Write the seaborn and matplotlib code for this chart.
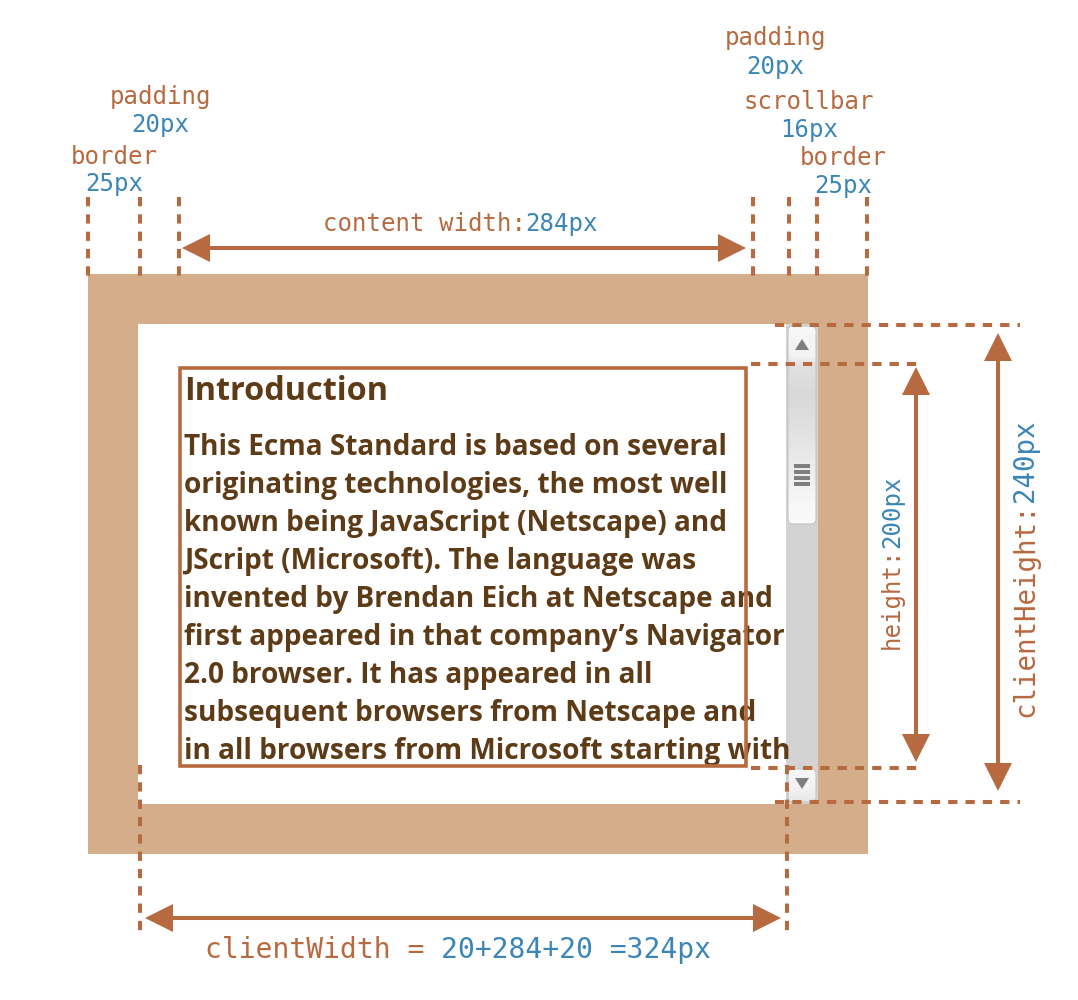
import numpy as np
import pandas as pd
import matplotlib
matplotlib.use("Agg")
import matplotlib.pyplot as plt
import seaborn as sns
from matplotlib.patches import Rectangle, FancyBboxPatch, Polygon

# ---------------- data (CSS pixel values of the box model) ----------------
part_names = ["border", "padding", "content", "padding", "scrollbar", "border"]
part_widths_css = [25, 20, 284, 20, 16, 25]
part_heights_css = [25, 20, 200, 20, 25]
content_width_css = 284
content_height_css = 200
client_height_css = 240
client_width_terms = [20, 284, 20]
client_width_css = 324

heading = "Introduction"
body_lines = [
    "This Ecma Standard is based on several",
    "originating technologies, the most well",
    "known being JavaScript (Netscape) and",
    "JScript (Microsoft). The language was",
    "invented by Brendan Eich at Netscape and",
    "first appeared in that company\u2019s Navigator",
    "2.0 browser. It has appeared in all",
    "subsequent browsers from Netscape and",
    "in all browsers from Microsoft starting with",
]

# ---------------- style ----------------
sns.set_theme(style="white")
plt.rcParams["font.family"] = ["DejaVu Sans Mono", "DejaVu Sans"]

TAN = "#d4ae8a"
BROWN = "#b7693f"
BLUE = "#3b86b7"
DARK = "#5d3b17"
TRACK = "#d3d3d3"
MONO = "DejaVu Sans Mono"

SCALE = 2.0
ORIGIN = (88, 274)

x_edges = ORIGIN[0] + SCALE * np.cumsum([0] + part_widths_css)
y_edges = ORIGIN[1] + SCALE * np.cumsum([0] + part_heights_css)

fig = plt.figure(figsize=(10.78, 10), dpi=100)
ax = fig.add_axes([0, 0, 1, 1])
ax.set_xlim(0, 1078)
ax.set_ylim(1000, 0)
ax.axis("off")

# ---------------- element box ----------------
ax.add_patch(Rectangle((x_edges[0], y_edges[0]), x_edges[-1] - x_edges[0],
                       y_edges[-1] - y_edges[0], facecolor=TAN, edgecolor="none", zorder=1))
ax.add_patch(Rectangle((x_edges[1], y_edges[1]), x_edges[5] - x_edges[1],
                       y_edges[4] - y_edges[1], facecolor="white", edgecolor="none", zorder=2))

# ---------------- scrollbar ----------------
sx0, sx1 = x_edges[4], x_edges[5]
ax.add_patch(Rectangle((sx0, y_edges[1]), sx1 - sx0, y_edges[4] - y_edges[1],
                       facecolor=TRACK, edgecolor="none", zorder=3))


def gradient_box(x0, x1, y0, y1, stops, zorder):
    patch = FancyBboxPatch((x0, y0), x1 - x0, y1 - y0,
                           boxstyle="round,pad=0,rounding_size=5",
                           facecolor="none", edgecolor="#c4c4c4", lw=0.8, zorder=zorder + 1)
    ax.add_patch(patch)
    pos = np.array([s[0] for s in stops])
    val = np.array([s[1] for s in stops])
    ys = np.linspace(0, 1, 200)
    g = np.interp(ys, pos, val)
    img = np.repeat(g[:, None], 4, axis=1)
    rgb = np.dstack([img, img, img])
    im = ax.imshow(rgb, extent=(x0, x1, y1, y0), origin="upper", aspect="auto",
                   zorder=zorder, interpolation="bilinear")
    im.set_clip_path(patch)


gradient_box(sx0 + 2, sx1 - 2, 326, 524,
             [(0, 0.97), (0.15, 0.95), (0.2, 0.88), (0.35, 0.85), (0.6, 0.9), (0.9, 0.97), (1, 0.98)], 4)
ax.add_patch(Polygon([(795, 350), (809, 350), (802, 339)], closed=True,
                     facecolor="#7f7f7f", edgecolor="none", zorder=6))
for gy in [466, 472, 478, 484]:
    ax.add_patch(Rectangle((794, gy - 1.6), 16, 3.2, facecolor="#7f7f7f",
                           edgecolor="none", zorder=6))
gradient_box(sx0 + 2, sx1 - 2, 769, 802, [(0, 0.97), (0.6, 0.95), (1, 0.9)], 4)
ax.add_patch(Polygon([(795, 778), (809, 778), (802, 789)], closed=True,
                     facecolor="#7f7f7f", edgecolor="none", zorder=6))

# ---------------- text content (drawn over the scrollbar, as in the reference) ----------------
ax.text(184, 400, heading, fontsize=23.3, fontweight="bold", family="Open Sans",
        color=DARK, va="baseline", ha="left", zorder=7)
for i, line in enumerate(body_lines):
    ax.text(184, 455 + 38 * i, line, fontsize=20.2, fontweight="bold", family="Open Sans",
            color=DARK, va="baseline", ha="left", zorder=7)

# content box outline
ax.add_patch(Rectangle((180, 367.5), 746 - 180, 766 - 367.5, facecolor="none",
                       edgecolor=BROWN, lw=2.6, zorder=8))

# ---------------- guide lines ----------------
DASH_LW = 2.9
DASHES = (2.3, 2.0)


def dashed(xs, ys):
    ax.plot(xs, ys, color=BROWN, lw=DASH_LW, dashes=DASHES, solid_capstyle="butt",
            dash_capstyle="butt", zorder=9)


guide_x = [x_edges[0], x_edges[1] + 2, x_edges[2] + 1, x_edges[3] + 7,
           x_edges[4] + 3, x_edges[5] - 1, x_edges[6] - 1]
for gx in guide_x:
    dashed([gx, gx], [197, 279])

dashed([775, 1020], [325, 325])
dashed([751, 923], [364, 364])
dashed([751, 923], [768, 768])
dashed([775, 1020], [802, 802])
dashed([140, 140], [765, 936])
dashed([787, 787], [765, 936])


# ---------------- arrows ----------------
def arrow(p0, p1, head_len=28, head_half=14, lw=2.9):
    p0 = np.array(p0, float)
    p1 = np.array(p1, float)
    d = (p1 - p0) / np.linalg.norm(p1 - p0)
    n = np.array([-d[1], d[0]])
    b0 = p0 + d * head_len
    b1 = p1 - d * head_len
    ax.plot([b0[0], b1[0]], [b0[1], b1[1]], color=BROWN, lw=lw, solid_capstyle="butt", zorder=10)
    for tip, base in [(p0, b0), (p1, b1)]:
        ax.add_patch(Polygon([tip, base + n * head_half, base - n * head_half], closed=True,
                             facecolor=BROWN, edgecolor="none", zorder=10))


arrow((182, 248), (746, 248))
arrow((916, 367), (916, 762))
arrow((998, 333), (998, 791))
arrow((145, 918), (781, 918))


# ---------------- labels ----------------
def mixed(cx, cy, parts, colors, size, rotation=0):
    cw = 0.602 * size * 100 / 72
    total = cw * sum(len(p) for p in parts)
    offset = 0
    for p, c in zip(parts, colors):
        if rotation == 0:
            x = cx - total / 2 + offset
            ax.text(x, cy, p, color=c, fontsize=size, family=MONO, ha="left", va="center",
                    rotation_mode="anchor", zorder=11)
        else:
            y = cy + total / 2 - offset
            ax.text(cx, y, p, color=c, fontsize=size, family=MONO, ha="left", va="center",
                    rotation=90, rotation_mode="anchor", zorder=11)
        offset += cw * len(p)


S = 17.3
label_specs = [
    ("padding", f"{part_widths_css[1]}px", 160, 97, 125),
    ("border", f"{part_widths_css[0]}px", 114, 157, 184),
    ("padding", f"{part_widths_css[3]}px", 775, 38, 67),
    ("scrollbar", f"{part_widths_css[4]}px", 809, 102, 130),
    ("border", f"{part_widths_css[5]}px", 843, 158, 186),
]
for name, val, cx, y1, y2 in label_specs:
    mixed(cx, y1, [name], [BROWN], S)
    mixed(cx, y2, [val], [BLUE], S)

mixed(460, 224, ["content width:", f"{content_width_css}px"], [BROWN, BLUE], S)
mixed(892, 562, ["height:", f"{content_height_css}px"], [BROWN, BLUE], S, rotation=90)
mixed(1025, 568, ["clientHeight:", f"{client_height_css}px"], [BROWN, BLUE], 19.8, rotation=90)
mixed(458, 950, ["clientWidth = ", "+".join(str(t) for t in client_width_terms) + f" ={client_width_css}px"],
      [BROWN, BLUE], 20.2)

fig.savefig("out.png", dpi=100)
